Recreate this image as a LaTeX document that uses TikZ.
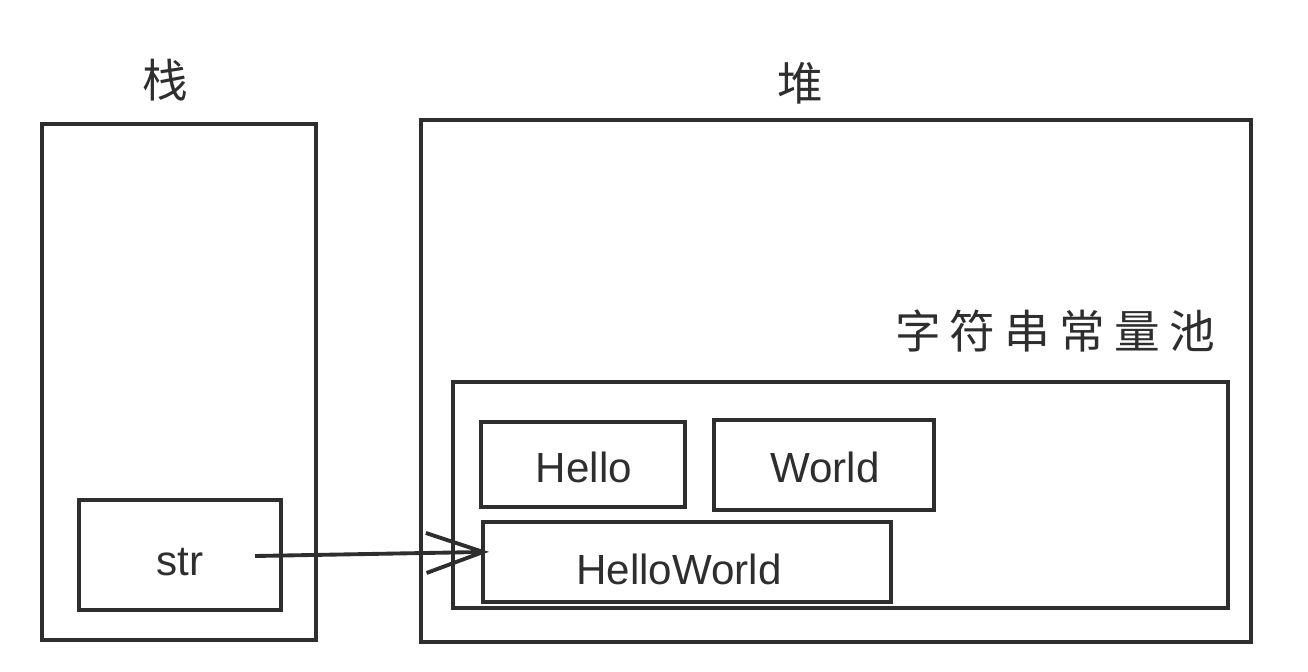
\documentclass[tikz,border=0pt]{standalone}
\usepackage{fontspec}
\setmainfont{Liberation Sans}
\newfontfamily\cjk{Noto Sans CJK SC}
\usetikzlibrary{fit,arrows.meta}
\definecolor{ink}{HTML}{2E2E2E}
\tikzset{
  box/.style={draw=ink, line width=2.2pt, inner sep=0pt, fit={#1}},
  lat/.style={text=ink, font=\fontsize{24}{27}\selectfont},
  han/.style={text=ink, font=\cjk\fontsize{26}{30}\selectfont},
  conn/.style={draw=ink, line width=2.2pt, shorten >=-0.16cm, -{Straight Barb[length=1.14cm,width=0.8cm,line width=2.2pt]}}
}
\begin{document}
\begin{tikzpicture}[x=0.02cm,y=-0.02cm]
\useasboundingbox (0,0) rectangle (1308,672);
% titles
\node[han] (tstack) at (165,80) {栈};
\node[han] (theap) at (800,83) {堆};
\node[han] (tpool) at (1055,331) {\addfontfeature{LetterSpace=20}字符串常量池};
% frames
\node[box={(42,124) (316,640)}] (stack) {};
\node[box={(421,120) (1251,642)}] (heap) {};
\node[box={(453,382) (1228,608)}] (pool) {};
\node[box={(481,422) (685,507)}] (hello) {};
\node[box={(714,420) (934,510)}] (world) {};
\node[box={(483,522) (891,602)}] (hw) {};
\node[box={(79,500) (281,610)}] (str) {};
% texts
\node[lat] (lhello) at (584,467) {Hello};
\node[lat] (lworld) at (825,467) {World};
\node[lat] (lhw) at (679,569) {HelloWorld};
\node[lat] (lstr) at (180,562) {str};
% connector
\coordinate (a0) at (255,556);
\draw[conn] (a0) -- ([yshift=0.2cm]hw.west);
\end{tikzpicture}
\end{document}
